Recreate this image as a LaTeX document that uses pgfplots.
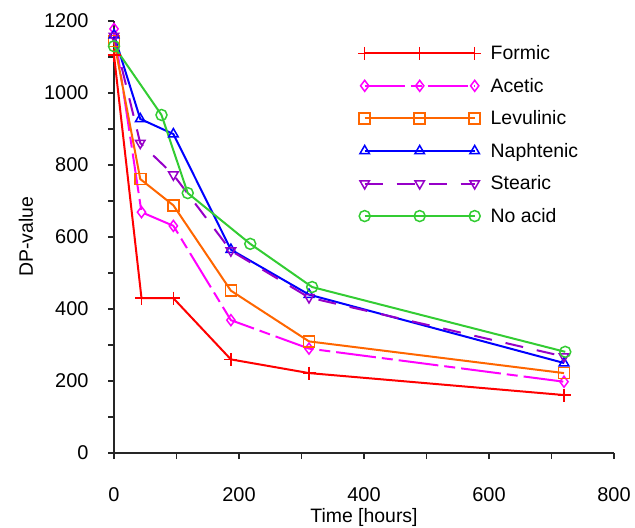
\documentclass[border=0pt]{standalone}
\usepackage{pgfplots}
\pgfplotsset{compat=1.18}
\usepackage{fontspec}
\setmainfont{Liberation Sans}
\definecolor{cFormic}{RGB}{255,0,0}
\definecolor{cAcetic}{RGB}{255,0,255}
\definecolor{cLevul}{RGB}{255,102,0}
\definecolor{cNaph}{RGB}{0,0,255}
\definecolor{cStear}{RGB}{150,0,200}
\definecolor{cNo}{RGB}{51,204,51}
\begin{document}
\begin{tikzpicture}
\begin{axis}[
  scale only axis,
  width=500bp, height=432bp,
  xmin=0, xmax=800, ymin=0, ymax=1200,
  axis x line*=bottom, axis y line*=left,
  axis line style={line width=1.2bp, black!85},
  xtick={0,200,...,800}, ytick={0,200,...,1200},
  minor xtick={100,300,500,700},
  minor ytick={100,300,500,700,900,1100},
  tick align=outside,
  major tick length=6bp, minor tick length=6bp,
  tick style={line width=1.2bp, black!85},
  /pgf/number format/assume math mode=true,
  /pgf/number format/1000 sep={},
  tick label style={font=\fontsize{20}{24}\selectfont},
  label style={font=\fontsize{19.5}{23}\selectfont},
  xticklabel style={yshift=-25bp},
  yticklabel style={xshift=-16bp},
  xlabel={Time [hours]},
  ylabel={DP-value},
  xlabel style={at={([yshift=-64bp]axis description cs:0.5,0)}, anchor=center},
  ylabel style={at={([xshift=-88bp]axis description cs:0,0.5)}, anchor=center},
  clip=false,
  every axis plot/.append style={line width=2bp, mark size=5.5bp},
  legend style={draw=none, fill=none, at={(0.482,0.953)}, anchor=north west,
    font=\fontsize{19.5}{23}\selectfont, row sep=13bp, cells={anchor=west}},
  legend cell align=left,
  legend image code/.code={\draw[#1] plot coordinates {(0bp,0bp) (55bp,0bp) (110bp,0bp)}; \path (123bp,0bp);},
]
\addplot[cFormic, mark=+, mark size=6.5bp, mark options={solid, line width=1.5bp}] coordinates {(0,1105) (44,430) (95,430) (187,260) (312,222) (720,161)};
\addlegendentry{Formic}
\addplot[cAcetic, mark=diamond, dash pattern=on 40bp off 6bp on 11bp off 6bp, mark options={solid, line width=1.5bp}] coordinates {(0,1178) (44,669) (95,631) (187,369) (312,290) (720,198)};
\addlegendentry{Acetic}
\addplot[cLevul, mark=square, mark options={solid, line width=1.5bp}] coordinates {(0,1145) (42,761) (95,688) (187,451) (312,310) (720,222)};
\addlegendentry{Levulinic}
\addplot[cNaph, mark=triangle, mark options={solid, line width=1.5bp}] coordinates {(0,1161) (42,928) (95,886) (187,565) (312,440) (720,250)};
\addlegendentry{Naphtenic}
\addplot[cStear, mark=triangle, dash pattern=on 18bp off 14bp, mark options={solid, line width=1.5bp, rotate=180}] coordinates {(0,1158) (42,861) (95,773) (187,562) (312,432) (720,268)};
\addlegendentry{Stearic}
\addplot[cNo, mark=o, mark options={solid, line width=1.5bp}] coordinates {(0,1130) (76,939) (118,722) (218,581) (317,461) (722,281)};
\addlegendentry{No acid}
\coordinate (ll) at (rel axis cs:0,0);
\coordinate (ur) at (rel axis cs:1,1);
\end{axis}
\pgfresetboundingbox
\path ([shift={(-114bp,-74bp)}]ll) rectangle ([shift={(21bp,21bp)}]ur);
\end{tikzpicture}
\end{document}
